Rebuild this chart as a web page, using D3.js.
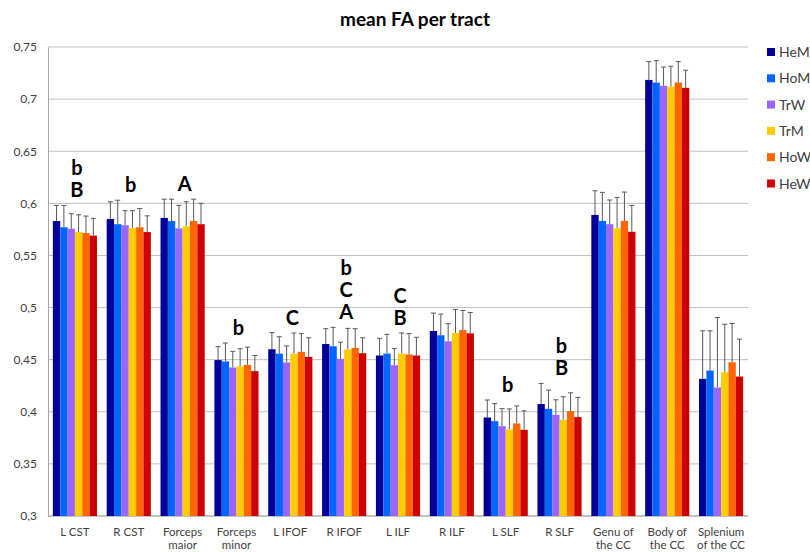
<!DOCTYPE html>
<html>
<head>
<meta charset="utf-8">
<script src="https://cdn.jsdelivr.net/npm/d3@7"></script>
<style>
  body { margin: 0; background: #fff; }
  text { font-family: Lato, "Liberation Sans", sans-serif; }
</style>
</head>
<body>
<script>
// tracts on the x axis
var categories = ["L CST", "R CST", "Forceps maior", "Forceps minor", "L IFOF", "R IFOF",
  "L ILF", "R ILF", "L SLF", "R SLF", "Genu of the CC", "Body of the CC", "Splenium of the CC"];

var groups = ["HeM", "HoM", "TrW", "TrM", "HoW", "HeW"];
var colors = ["#000099", "#0066ff", "#9966ff", "#ffcc00", "#ff6600", "#cc0000"];

// mean FA per group
var HeM = [0.583, 0.585, 0.586, 0.4496, 0.460, 0.465, 0.454, 0.4775, 0.3945, 0.4074, 0.5889, 0.7184, 0.4316];
var HoM = [0.577, 0.580, 0.583, 0.4483, 0.4558, 0.4629, 0.4558, 0.4734, 0.391, 0.4029, 0.5831, 0.7159, 0.4395];
var TrW = [0.5756, 0.579, 0.576, 0.4425, 0.4473, 0.4508, 0.4447, 0.4676, 0.3862, 0.3971, 0.580, 0.7127, 0.4233];
var TrM = [0.5724, 0.5763, 0.578, 0.4435, 0.4558, 0.4597, 0.4558, 0.4756, 0.383, 0.3923, 0.5761, 0.7118, 0.4379];
var HoW = [0.5715, 0.577, 0.583, 0.445, 0.4575, 0.4613, 0.455, 0.4784, 0.3888, 0.4006, 0.5831, 0.7159, 0.4475];
var HeW = [0.569, 0.5724, 0.580, 0.439, 0.4527, 0.4562, 0.454, 0.4753, 0.3827, 0.3949, 0.5727, 0.7108, 0.4338];

// top of the error bars (mean + sd)
var HeM_hi = [0.598, 0.6015, 0.604, 0.4625, 0.476, 0.4797, 0.4705, 0.4947, 0.4113, 0.4272, 0.612, 0.736, 0.4777];
var HoM_hi = [0.598, 0.603, 0.604, 0.466, 0.472, 0.481, 0.4743, 0.4937, 0.4078, 0.4208, 0.6105, 0.7369, 0.4777];
var TrW_hi = [0.590, 0.593, 0.598, 0.458, 0.4632, 0.4667, 0.4606, 0.4845, 0.403, 0.4115, 0.6032, 0.7308, 0.4904];
var TrM_hi = [0.589, 0.593, 0.6015, 0.4605, 0.4756, 0.480, 0.4756, 0.4982, 0.4027, 0.4144, 0.6057, 0.7315, 0.484];
var HoW_hi = [0.5878, 0.595, 0.604, 0.462, 0.475, 0.4797, 0.475, 0.4972, 0.4056, 0.4182, 0.6108, 0.736, 0.4847];
var HeW_hi = [0.5856, 0.588, 0.600, 0.454, 0.471, 0.471, 0.4715, 0.4953, 0.4009, 0.4138, 0.598, 0.7277, 0.4697];

// significance letters above each tract (top to bottom)
var sigLetters = [["b", "B"], ["b"], ["A"], ["b"], ["C"], ["b", "C", "A"], ["C", "B"], [], ["b"], ["b", "B"], [], [], []];

// x labels, split over two lines
var xLabelLines = [["L CST"], ["R CST"], ["Forceps", "maior"], ["Forceps", "minor"], ["L IFOF"], ["R IFOF"],
  ["L ILF"], ["R ILF"], ["L SLF"], ["R SLF"], ["Genu of", "the CC"], ["Body of", "the CC"], ["Splenium", "of the CC"]];

var yTicks = [0.3, 0.35, 0.4, 0.45, 0.5, 0.55, 0.6, 0.65, 0.7, 0.75];

var means = [HeM, HoM, TrW, TrM, HoW, HeW];
var highs = [HeM_hi, HoM_hi, TrW_hi, TrM_hi, HoW_hi, HeW_hi];

var full_width = 810, full_height = 552;
var margin = {top: 47, right: 62, bottom: 36, left: 48};
var width = full_width - margin.left - margin.right,
    height = full_height - margin.top - margin.bottom;

var svg = d3.select("body").append("svg")
  .attr("width", full_width)
  .attr("height", full_height);

var g = svg.append("g")
  .attr("transform", "translate(" + margin.left + "," + margin.top + ")");

var x = d3.scaleBand()
  .domain(categories)
  .range([0, width])
  .paddingInner(0.18)
  .paddingOuter(0.09);

var x1 = d3.scaleBand()
  .domain(groups)
  .range([0, x.bandwidth()]);

var y = d3.scaleLinear()
  .domain([0.3, 0.75])
  .range([height, 0]);

// gridlines
g.selectAll(".grid")
  .data(yTicks)
  .enter().append("line")
  .attr("x1", 0)
  .attr("x2", width)
  .attr("y1", function(d) { return y(d); })
  .attr("y2", function(d) { return y(d); })
  .attr("stroke", "#bfbfbf")
  .attr("stroke-width", 1);

// y axis
var y_axis = d3.axisLeft(y)
  .tickValues(yTicks)
  .tickSize(0)
  .tickPadding(11)
  .tickFormat(function(d) { return String(+d.toFixed(2)).replace(".", ","); });

var yAxis = g.append("g").call(y_axis);
yAxis.select(".domain").attr("stroke", "#a6a6a6");
yAxis.selectAll("text")
  .style("font-size", "12px")
  .style("font-family", "Lato, sans-serif")
  .attr("fill", "#404040");

// bottom line
g.append("line")
  .attr("x1", 0).attr("x2", width)
  .attr("y1", height).attr("y2", height)
  .attr("stroke", "#a6a6a6");

// build rows
var rows = [];
categories.forEach(function(c, i) {
  groups.forEach(function(s, j) {
    rows.push({cat: c, grp: s, val: means[j][i], hi: highs[j][i], color: colors[j]});
  });
});

// error bars (upper half)
var err = g.selectAll(".err")
  .data(rows)
  .enter().append("g");

err.append("line")
  .attr("x1", function(d) { return x(d.cat) + x1(d.grp) + x1.bandwidth() / 2; })
  .attr("x2", function(d) { return x(d.cat) + x1(d.grp) + x1.bandwidth() / 2; })
  .attr("y1", function(d) { return y(d.val); })
  .attr("y2", function(d) { return y(d.hi); })
  .attr("stroke", "#595959");

err.append("line")
  .attr("x1", function(d) { return x(d.cat) + x1(d.grp) + x1.bandwidth() / 2 - 2.5; })
  .attr("x2", function(d) { return x(d.cat) + x1(d.grp) + x1.bandwidth() / 2 + 2.5; })
  .attr("y1", function(d) { return y(d.hi); })
  .attr("y2", function(d) { return y(d.hi); })
  .attr("stroke", "#595959");

// bars
g.selectAll(".bar")
  .data(rows)
  .enter().append("rect")
  .attr("x", function(d) { return x(d.cat) + x1(d.grp); })
  .attr("width", x1.bandwidth())
  .attr("y", function(d) { return y(d.val); })
  .attr("height", function(d) { return height - y(d.val); })
  .attr("fill", function(d) { return d.color; });

// significance letters
categories.forEach(function(c, i) {
  var letters = sigLetters[i];
  if (!letters.length) return;
  var top = d3.max(highs, function(h) { return h[i]; });
  var base = y(top) - 8;
  var n = letters.length;
  letters.forEach(function(l, k) {
    g.append("text")
      .attr("x", x(c) + x.bandwidth() / 2 + 2)
      .attr("y", base - (n - 1 - k) * 22)
      .attr("text-anchor", "middle")
      .style("font-size", "20px")
      .style("font-weight", "700")
      .attr("fill", "#000")
      .text(l);
  });
});

// x labels, one text per line
categories.forEach(function(c, i) {
  xLabelLines[i].forEach(function(l, k) {
    g.append("text")
      .attr("x", x(c) + x.bandwidth() / 2)
      .attr("y", height + 19.5 + k * 13.9)
      .attr("text-anchor", "middle")
      .style("font-size", "11.5px")
      .attr("fill", "#404040")
      .text(l);
  });
});

// title
svg.append("text")
  .attr("x", 415)
  .attr("y", 26)
  .attr("text-anchor", "middle")
  .style("font-size", "19px")
  .style("font-weight", "700")
  .attr("fill", "#000")
  .text("mean FA per tract");

// legend
var legend = svg.selectAll(".legend")
  .data(groups)
  .enter().append("g")
  .attr("transform", function(d, i) { return "translate(767," + (52 + i * 26.3) + ")"; });

legend.append("rect")
  .attr("x", 0)
  .attr("y", -4)
  .attr("width", 8)
  .attr("height", 8)
  .attr("fill", function(d, i) { return colors[i]; });

legend.append("text")
  .attr("x", 12)
  .attr("y", 5)
  .style("font-size", "14px")
  .attr("fill", "#404040")
  .text(function(d) { return d; });
</script>
</body>
</html>
